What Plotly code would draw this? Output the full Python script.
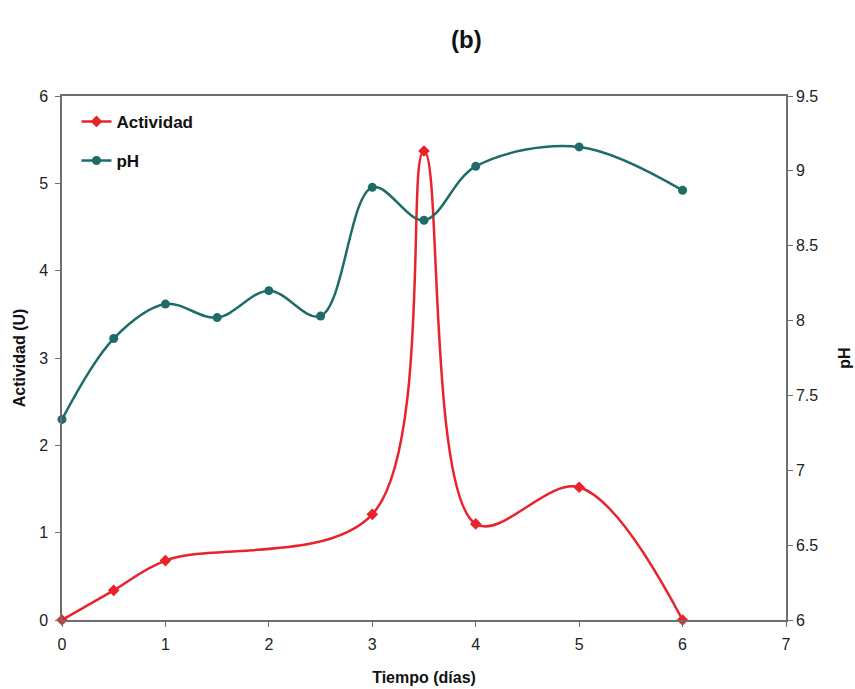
import plotly.graph_objects as go

tiempo_act = [0, 0.5, 1, 3, 3.5, 4, 5, 6]
actividad = [0, 0.34, 0.68, 1.21, 5.37, 1.10, 1.52, 0]

tiempo_ph = [0, 0.5, 1, 1.5, 2, 2.5, 3, 3.5, 4, 5, 6]
ph = [7.34, 7.88, 8.11, 8.02, 8.20, 8.03, 8.89, 8.67, 9.03, 9.16, 8.87]

RED = "#e8232b"
TEAL = "#1d6c68"
AX = "#6e6e6e"
FONT = "Liberation Sans, Arial, sans-serif"

fig = go.Figure()
fig.add_trace(go.Scatter(
    x=tiempo_act, y=actividad, name="<b>Actividad</b>", mode="lines+markers",
    legendgroup="a",
    line=dict(color=RED, width=2.5, shape="spline", smoothing=1.0),
    marker=dict(symbol="diamond", size=9, color=RED), cliponaxis=False,
))
fig.add_trace(go.Scatter(
    x=tiempo_ph, y=ph, name="<b>pH</b>", mode="lines+markers", yaxis="y2",
    legendgroup="b",
    line=dict(color=TEAL, width=2.5, shape="spline", smoothing=1.0),
    marker=dict(symbol="circle", size=9, color=TEAL), cliponaxis=False,
))

tickfont = dict(family=FONT, size=16, color="#222222")
titlefont = dict(family=FONT, size=16, color="#111111")

fig.update_layout(
    width=855, height=689,
    margin=dict(l=62, r=69, t=96, b=69),
    paper_bgcolor="white", plot_bgcolor="white",
    showlegend=True,
    legend=dict(x=0.02, y=0.985, xanchor="left", yanchor="top",
                font=dict(family=FONT, size=17, color="#111111"),
                bgcolor="rgba(0,0,0,0)", itemwidth=30, tracegroupgap=14),
    xaxis=dict(range=[0, 7], dtick=1, showgrid=False, zeroline=False,
               showline=True, linecolor=AX, linewidth=1.5, mirror=True,
               ticks="outside", ticklen=5, tickcolor=AX, tickfont=tickfont,
               ticklabelstandoff=4, automargin=False,
               title=dict(text="<b>Tiempo (días)</b>", font=titlefont, standoff=20)),
    yaxis=dict(range=[0, 6], dtick=1, showgrid=False, zeroline=False,
               showline=True, linecolor=AX, linewidth=1.5,
               ticks="outside", ticklen=5, tickcolor=AX, tickfont=tickfont,
               ticklabelstandoff=4, automargin=False,
               title=dict(text="<b>Actividad (U)</b>", font=titlefont, standoff=10)),
    yaxis2=dict(range=[6, 9.5], dtick=0.5, overlaying="y", side="right",
                showgrid=False, zeroline=False,
                showline=True, linecolor=AX, linewidth=1.5,
                ticks="outside", ticklen=5, tickcolor=AX, tickfont=tickfont,
                automargin=False,
                title=dict(text="<b>pH</b>", font=titlefont, standoff=22)),
    annotations=[dict(text="<b>(b)</b>", x=0.559, y=1.107, xref="paper", yref="paper",
                      xanchor="center", yanchor="middle",
                      showarrow=False, font=dict(family=FONT, size=24, color="#111111"))],
)

fig.write_html("out.html")
